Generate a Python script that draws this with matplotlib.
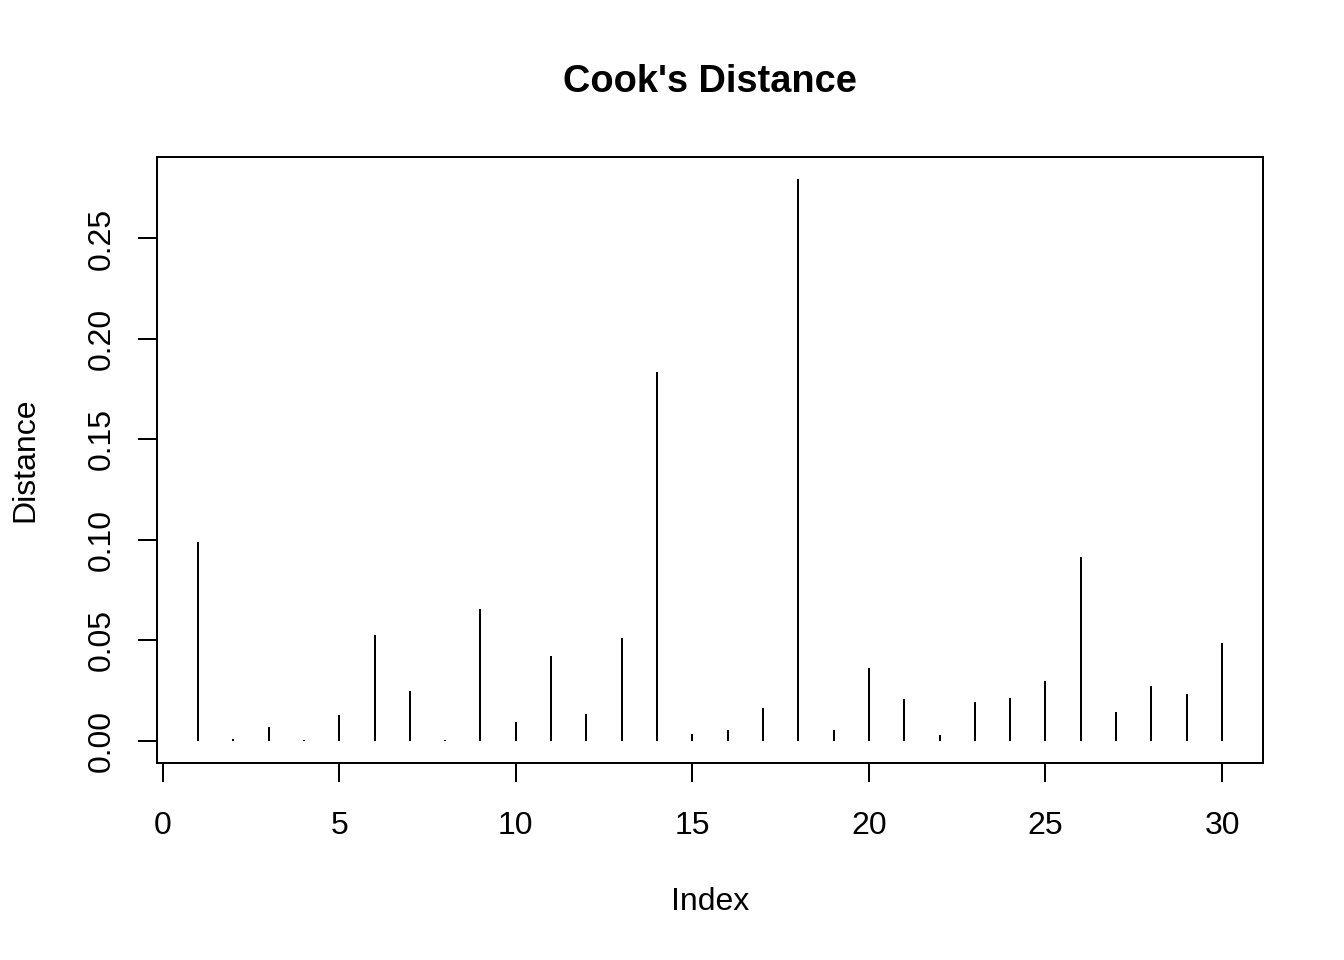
import matplotlib
matplotlib.use('Agg')
import matplotlib.pyplot as plt
import numpy as np

index = list(range(1, 31))
distance = [0.0988, 0.0008, 0.0068, 0.0003, 0.0128, 0.0525, 0.0247, 0.0003, 0.0654, 0.0094,
            0.0422, 0.0133, 0.0510, 0.1836, 0.0033, 0.0053, 0.0162, 0.2794, 0.0053, 0.0361,
            0.0207, 0.0028, 0.0192, 0.0212, 0.0296, 0.0912, 0.0142, 0.0271, 0.0232, 0.0485]
x_ticks = [0, 5, 10, 15, 20, 25, 30]
y_ticks = [0.00, 0.05, 0.10, 0.15, 0.20, 0.25]

plt.rcParams['font.family'] = ['Liberation Sans', 'DejaVu Sans']
lw = 1.44
fs = 23

fig = plt.figure(figsize=(13.44, 9.6), dpi=100)
ax = fig.add_axes([157 / 1344, 1 - 763 / 960, (1263 - 157) / 1344, (763 - 157) / 960])

ax.vlines(index, 0, distance, colors='black', linewidth=lw)

# R-style 4% axis extension
xr = max(index) - min(index)
ax.set_xlim(min(index) - 0.04 * xr, max(index) + 0.04 * xr)
yr = max(distance) - 0
ax.set_ylim(0 - 0.04 * yr, max(distance) + 0.04 * yr)

ax.set_xticks(x_ticks)
ax.set_xticklabels([str(t) for t in x_ticks])
ax.set_yticks(y_ticks)
ax.set_yticklabels(['%.2f' % t for t in y_ticks])
ax.tick_params(axis='both', direction='out', length=13.8, width=lw, labelsize=fs, colors='black')
ax.tick_params(axis='x', pad=21)
ax.tick_params(axis='y', pad=15, labelrotation=90)
for lab in ax.get_yticklabels():
    lab.set_va('center')
for s in ax.spines.values():
    s.set_linewidth(lw)

fig.text(710 / 1344, 1 - 82 / 960, "Cook's Distance", ha='center', va='center',
         fontsize=fs * 1.19, fontweight='bold')
fig.text(710 / 1344, 1 - 902 / 960, 'Index', ha='center', va='center', fontsize=fs)
fig.text(25 / 1344, 1 - 460 / 960, 'Distance', ha='center', va='center', fontsize=fs, rotation=90)

fig.savefig('out.png', dpi=100)
